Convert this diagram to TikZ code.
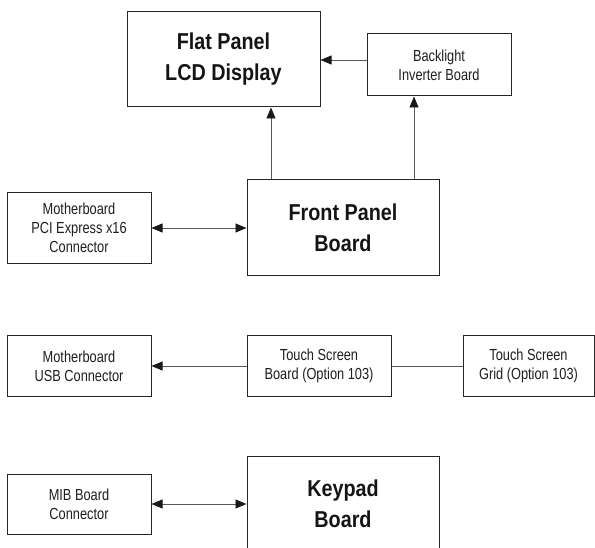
\documentclass[tikz,border=0pt]{standalone}
\usepackage{fontspec}
\setmainfont{Liberation Sans}[FakeStretch=0.8, BoldFeatures={FakeStretch=0.86}]
\usetikzlibrary{arrows.meta}

\tikzset{
    unit/.style={draw=black!85, line width=1pt, align=center, inner sep=0pt,
        text=black!88, font=\fontsize{16}{19}\selectfont},
    bigunit/.style={unit, text=black!92, font=\fontsize{23}{31}\selectfont\bfseries},
    link/.style={draw=black!65, line width=0.8pt},
    arr/.style={link, -{Triangle[length=11pt,width=9pt,color=black!90]}},
    dblarr/.style={link, {Triangle[length=11pt,width=9pt,color=black!90]}-{Triangle[length=11pt,width=9pt,color=black!90]}},
}

\begin{document}
\begin{tikzpicture}[x=1pt,y=-1pt]
    \useasboundingbox (0,0) rectangle (595,548);

    %display and front panel
        \node[bigunit, minimum width=193, minimum height=95] (lcd) at (223.5,59.5) {Flat Panel\\LCD Display};
        \node[unit, minimum width=144, minimum height=62] (backlight) at (439,65) {Backlight\\Inverter Board};
        \node[bigunit, minimum width=192, minimum height=96] (front) at (343,228) {Front Panel\\Board};
        \node[unit, minimum width=144, minimum height=71] (pci) at (79,228) {Motherboard\\PCI Express x16\\Connector};

    %touch screen row
        \node[unit, minimum width=144, minimum height=60] (usb) at (79,366) {Motherboard\\USB Connector};
        \node[unit, minimum width=144, minimum height=60] (tsb) at (319,366) {Touch Screen\\Board (Option 103)};
        \node[unit, minimum width=131, minimum height=60] (grid) at (528.5,366) {Touch Screen\\Grid (Option 103)};

    %keypad row
        \node[unit, minimum width=144, minimum height=60] (mib) at (79,504) {MIB Board\\Connector};
        \node[bigunit, minimum width=192, minimum height=96] (keypad) at (343,504) {Keypad\\Board};

    %connections
        \draw[arr] ([xshift=-72pt]front.north) -- ([xshift=-72pt]front.north |- lcd.south);
        \draw[arr] ([xshift=71pt]front.north) -- ([xshift=71pt]front.north |- backlight.south);
        \draw[arr] ([yshift=5pt]backlight.west) -- ([yshift=5pt]backlight.west -| lcd.east);
        \draw[dblarr] (pci.east) -- (front.west);
        \draw[arr] (tsb.west) -- (usb.east);
        \draw[link] (tsb.east) -- (grid.west);
        \draw[dblarr] (mib.east) -- (keypad.west);

\end{tikzpicture}
\end{document}
